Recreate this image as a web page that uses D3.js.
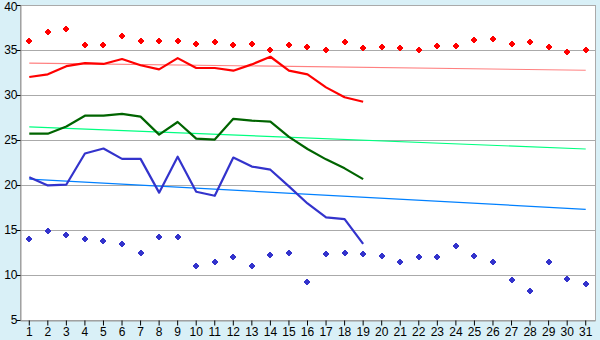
<!DOCTYPE html>
<html>
<head>
<meta charset="utf-8">
<script src="https://cdn.jsdelivr.net/npm/d3@7"></script>
<style>
  body { margin: 0; background: #d9f0f7; }
  svg { display: block; font-family: "DejaVu Sans", Verdana, sans-serif; }
</style>
</head>
<body>
<div id="chart"></div>
<script>
// days of the month
const days = d3.range(1, 32);
const yTicks = [5, 10, 15, 20, 25, 30, 35, 40];

// record highs (dots) and this month's highs (line)
const maxRecord = [36.0, 37.0, 37.3, 35.6, 35.6, 36.5, 36.0, 36.0, 36.0, 35.7,
  35.85, 35.6, 35.7, 35.0, 35.6, 35.3, 35.0, 35.85, 35.2, 35.3,
  35.2, 35.0, 35.5, 35.5, 36.1, 36.2, 35.7, 35.85, 35.3, 34.75, 35.0];
const maxValues = [32.0, 32.3, 33.2, 33.55, 33.45, 34.0, 33.3, 32.85, 34.1, 33.0,
  33.0, 32.7, 33.4, 34.25, 32.7, 32.3, 30.85, 29.75, 29.25];
const maxTrend = [33.55, 32.75];

// means
const meanValues = [25.7, 25.7, 26.5, 27.7, 27.7, 27.9, 27.6, 25.6, 27.0, 25.15,
  25.05, 27.35, 27.15, 27.05, 25.35, 24.0, 22.85, 21.85, 20.65];
const meanTrend = [26.45, 24.0];

// record lows (dots) and this month's lows (line)
const minRecord = [14.0, 14.85, 14.4, 14.0, 13.75, 13.4, 12.5, 14.2, 14.2, 10.95,
  11.5, 11.95, 10.95, 12.2, 12.4, 9.2, 12.3, 12.5, 12.3, 12.1,
  11.4, 11.95, 11.95, 13.2, 12.1, 11.5, 9.5, 8.2, 11.4, 9.6, 8.95];
const minValues = [20.85, 19.95, 20.05, 23.5, 24.05, 22.9, 22.9, 19.15, 23.15, 19.25,
  18.8, 23.05, 22.05, 21.7, 19.85, 17.95, 16.4, 16.2, 13.45];
const minTrend = [20.65, 17.3];
const trendDays = [1, 31];

const width = 600;
const height = 340;
const margin = { top: 5, right: 5, bottom: 20, left: 20 };

const svg = d3.select("#chart")
  .append("svg")
  .attr("width", width)
  .attr("height", height);

const xScale = d3.scaleBand()
  .domain(days)
  .range([margin.left, width - margin.right]);

const xPos = d => xScale(d) + xScale.bandwidth() / 2;

const yScale = d3.scaleLinear()
  .domain([5, 40])
  .range([height - margin.bottom, margin.top]);

// plot area
svg.append("rect")
  .attr("x", margin.left)
  .attr("y", margin.top)
  .attr("width", width - margin.left - margin.right)
  .attr("height", height - margin.top - margin.bottom)
  .attr("fill", "white")
  .attr("stroke", "#aaaaaa")
  .attr("shape-rendering", "crispEdges");

// grid lines
svg.append("g")
  .selectAll("line")
  .data(yTicks.slice(1, -1))
  .join("line")
  .attr("x1", margin.left)
  .attr("x2", width - margin.right)
  .attr("y1", d => Math.round(yScale(d)) + 0.5)
  .attr("y2", d => Math.round(yScale(d)) + 0.5)
  .attr("stroke", "#aaaaaa");

// axes
const xAxis = d3.axisBottom(xScale).tickSize(5).tickSizeOuter(0);
const yAxis = d3.axisLeft(yScale).tickValues(yTicks).tickSize(4).tickSizeOuter(0);

const gx = svg.append("g")
  .attr("transform", `translate(0,${height - margin.bottom + 0.5})`)
  .call(xAxis);
gx.select(".domain").attr("stroke", "#999999");
gx.selectAll(".tick line").attr("stroke", "black");
gx.selectAll(".tick text").attr("font-size", 12).attr("y", 4).attr("dy", "0.95em").attr("fill", "black");

const gy = svg.append("g")
  .attr("transform", `translate(${margin.left + 0.5},0)`)
  .call(yAxis);
gy.select(".domain").attr("stroke", "#999999");
gy.selectAll(".tick line").attr("stroke", "black");
gy.selectAll(".tick text").attr("font-size", 12).attr("x", -3).attr("fill", "black")
  .attr("y", d => d === 40 ? 1.5 : 0); // keep top label inside the page

const line = d3.line()
  .x((d, i) => xPos(days[i]))
  .y(d => yScale(d));

const trendLine = d3.line()
  .x((d, i) => xPos(trendDays[i]))
  .y(d => yScale(d));

// trend lines
const trends = [
  { values: maxTrend, color: "#ff8080" },
  { values: meanTrend, color: "#00ff80" },
  { values: minTrend, color: "#0080ff" }
];
svg.append("g")
  .selectAll("path")
  .data(trends)
  .join("path")
  .attr("d", d => trendLine(d.values))
  .attr("fill", "none")
  .attr("stroke", d => d.color)
  .attr("stroke-width", 1.2);

// monthly lines
const series = [
  { values: maxValues, color: "#ff0000" },
  { values: meanValues, color: "#006400" },
  { values: minValues, color: "#3333cc" }
];
svg.append("g")
  .selectAll("path")
  .data(series)
  .join("path")
  .attr("d", d => line(d.values))
  .attr("fill", "none")
  .attr("stroke", d => d.color)
  .attr("stroke-width", 2.2)
  .attr("stroke-linejoin", "round");

// record markers (small plus shapes)
const marker = "M-1,-3h2v1h1v1h1v2h-1v1h-1v1h-2v-1h-1v-1h-1v-2h1v-1h1z";
const records = [
  { values: maxRecord, color: "#ff0000" },
  { values: minRecord, color: "#3333cc" }
];
records.forEach(r => {
  svg.append("g")
    .selectAll("path")
    .data(r.values)
    .join("path")
    .attr("transform", (d, i) => `translate(${Math.round(xPos(days[i]))},${Math.round(yScale(d))})`)
    .attr("d", marker)
    .attr("fill", r.color);
});
</script>
</body>
</html>
